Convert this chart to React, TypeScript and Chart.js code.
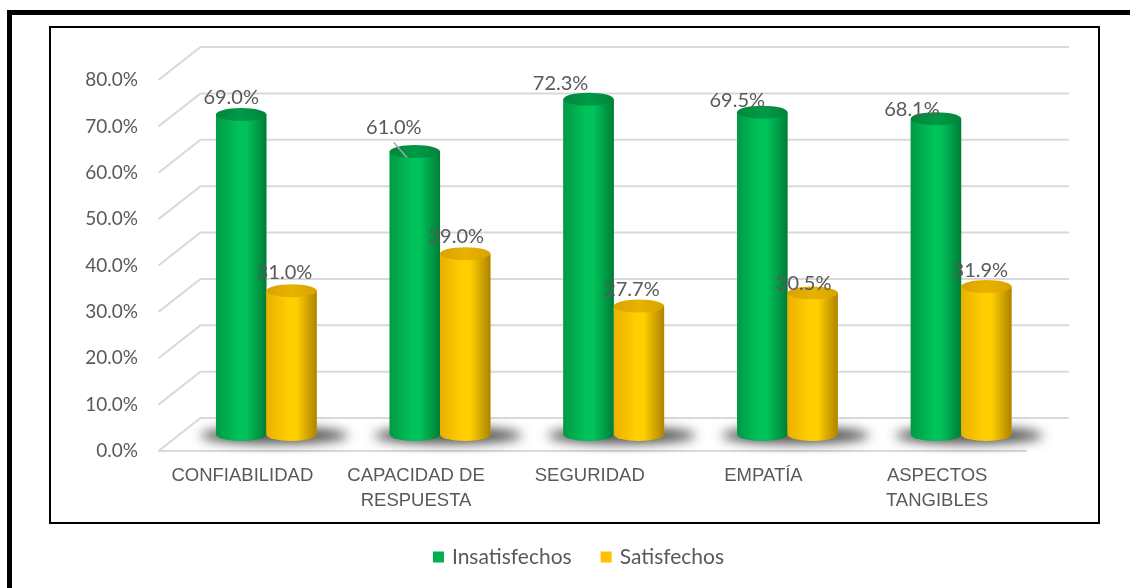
import React, { useEffect, useRef } from "react";
import { Chart, registerables } from "chart.js";

Chart.register(...registerables);

// ---- data ----
const categories: string[][] = [
  ["CONFIABILIDAD"],
  ["CAPACIDAD DE", "RESPUESTA"],
  ["SEGURIDAD"],
  ["EMPATÍA"],
  ["ASPECTOS", "TANGIBLES"],
];
const insatisfechos = [69.0, 61.0, 72.3, 69.5, 68.1];
const satisfechos = [31.0, 39.0, 27.7, 30.5, 31.9];
const seriesNames = ["Insatisfechos", "Satisfechos"];
const yMin = 0;
const yMax = 80;
const yStep = 10;

// ---- styling ----
const GREEN = "#00b050";
const YELLOW = "#ffc000";
const TEXT = "#595959";
const GRID = "#d9d9d9";
const DX = 21; // 3D depth offset (x)
const DY = 16.5; // 3D depth offset (y)
const CAP_RY = 6.5;
const FONT = "Lato, 'Liberation Sans', sans-serif";

// data label nudges relative to bar centre / bar top (styling)
const labelNudgeGreen = [
  [-10, -16.5],
  [-21, -24.5],
  [-28, -16],
  [-25, -12],
  [-24, -9],
];
const labelNudgeYellow = [
  [-7, -18.5],
  [-9, -17.5],
  [-7, -16],
  [-9, -10],
  [-6, -16.5],
];
const leaderGreen = [false, true, false, false, false];

const palettes = [
  { l: "#009a44", m: "#00c25a", r: "#007d36", capA: "#00853b", capB: "#009a46" },
  { l: "#eab000", m: "#ffcf00", r: "#ad8300", capA: "#d9a300", capB: "#e8b200" },
];

function drawCylinder(ctx: CanvasRenderingContext2D, x: number, top: number, base: number, w: number, p: any) {
  const l = x - w / 2;
  const r = x + w / 2;
  const rx = w / 2;
  const g = ctx.createLinearGradient(l, 0, r, 0);
  g.addColorStop(0, p.l);
  g.addColorStop(0.45, p.m);
  g.addColorStop(0.6, p.m);
  g.addColorStop(1, p.r);
  ctx.fillStyle = g;
  ctx.beginPath();
  ctx.moveTo(l, top);
  ctx.lineTo(l, base);
  ctx.ellipse(x, base, rx, CAP_RY, 0, Math.PI, 0, true);
  ctx.lineTo(r, top);
  ctx.closePath();
  ctx.fill();
  const cg = ctx.createLinearGradient(l, 0, r, 0);
  cg.addColorStop(0, p.capA);
  cg.addColorStop(0.5, p.capB);
  cg.addColorStop(1, p.capA);
  ctx.fillStyle = cg;
  ctx.beginPath();
  ctx.ellipse(x, top, rx, CAP_RY, 0, 0, Math.PI * 2);
  ctx.fill();
}

const framePlugin = {
  id: "frame3d",
  beforeDraw(chart: any) {
    const ctx = chart.ctx as CanvasRenderingContext2D;
    ctx.save();
    ctx.fillStyle = "#ffffff";
    ctx.fillRect(0, 0, chart.width, chart.height);
    // outer thick frame (top + left)
    ctx.fillStyle = "#000000";
    ctx.fillRect(7, 10, chart.width - 7, 5);
    ctx.fillRect(7, 10, 5, chart.height - 10);
    // inner plot frame
    ctx.strokeStyle = "#000000";
    ctx.lineWidth = 2;
    ctx.strokeRect(50, 27, 1049, 496);
    ctx.restore();
  },
  beforeDatasetsDraw(chart: any) {
    const ctx = chart.ctx as CanvasRenderingContext2D;
    const y = chart.scales.y;
    const x = chart.scales.x;
    const { left, right } = chart.chartArea;
    ctx.save();
    ctx.strokeStyle = GRID;
    ctx.lineWidth = 2;
    for (let v = yMin; v <= yMax; v += yStep) {
      const ym = y.getPixelForValue(v);
      ctx.beginPath();
      ctx.moveTo(left - DX, ym + DY);
      ctx.lineTo(left + DX, ym - DY);
      ctx.lineTo(right + DX, ym - DY);
      ctx.stroke();
    }
    // floor front edge
    const y0 = y.getPixelForValue(0);
    ctx.beginPath();
    ctx.moveTo(left - DX, y0 + DY);
    ctx.lineTo(right - DX, y0 + DY);
    ctx.stroke();
    // shadows on the floor
    ctx.filter = "blur(6px)";
    ctx.fillStyle = "rgba(30,30,30,0.8)";
    for (let i = 0; i < categories.length; i++) {
      const cx = x.getPixelForValue(i);
      ctx.beginPath();
      ctx.ellipse(cx + 8, y0 + 1, 74, 8, 0, 0, Math.PI * 2);
      ctx.fill();
    }
    ctx.filter = "none";
    ctx.restore();
  },
  afterDatasetsDraw(chart: any) {
    const ctx = chart.ctx as CanvasRenderingContext2D;
    ctx.save();
    chart.data.datasets.forEach((ds: any, di: number) => {
      const meta = chart.getDatasetMeta(di);
      meta.data.forEach((bar: any) => {
        drawCylinder(ctx, bar.x, bar.y, bar.base, bar.width, palettes[di]);
      });
    });
    ctx.font = "20px " + FONT;
    ctx.fillStyle = TEXT;
    ctx.textAlign = "center";
    ctx.textBaseline = "middle";
    chart.data.datasets.forEach((ds: any, di: number) => {
      const meta = chart.getDatasetMeta(di);
      const nudges = di === 0 ? labelNudgeGreen : labelNudgeYellow;
      meta.data.forEach((bar: any, i: number) => {
        const lx = bar.x + nudges[i][0];
        const ly = bar.y + nudges[i][1];
        if (di === 0 && leaderGreen[i]) {
          ctx.strokeStyle = "#a6a6a6";
          ctx.lineWidth = 1.5;
          ctx.beginPath();
          ctx.moveTo(bar.x - 21, bar.y - 9);
          ctx.lineTo(bar.x - 8, bar.y + 6);
          ctx.stroke();
        }
        ctx.fillText(ds.data[i].toFixed(1) + "%", lx, ly);
      });
    });
    ctx.restore();
  },
  afterDraw(chart: any) {
    // legend (custom, to match item spacing)
    const ctx = chart.ctx as CanvasRenderingContext2D;
    ctx.save();
    ctx.font = "21px " + FONT;
    ctx.textBaseline = "middle";
    ctx.textAlign = "left";
    const box = 11;
    const gap = 8;
    const spacing = 29;
    const items = chart.data.datasets.map((ds: any) => ({
      text: ds.label as string,
      color: ds.backgroundColor as string,
      w: ctx.measureText(ds.label).width,
    }));
    const total = items.reduce((s: number, it: any) => s + box + gap + it.w, 0) + spacing * (items.length - 1);
    const cy = 557;
    let cx = chart.width / 2 + 13.5 - total / 2;
    items.forEach((it: any) => {
      ctx.fillStyle = it.color;
      ctx.fillRect(cx, cy - box / 2, box, box);
      ctx.fillStyle = TEXT;
      ctx.fillText(it.text, cx + box + gap, cy);
      cx += box + gap + it.w + spacing;
    });
    ctx.restore();
  },
};

export default function App() {
  const ref = useRef<HTMLCanvasElement | null>(null);
  useEffect(() => {
    if (!ref.current) return;
    const chart = new Chart(ref.current, {
      type: "bar",
      data: {
        labels: categories,
        datasets: [
          { label: seriesNames[0], data: insatisfechos, backgroundColor: GREEN, borderWidth: 0 },
          { label: seriesNames[1], data: satisfechos, backgroundColor: YELLOW, borderWidth: 0 },
        ],
      },
      options: {
        responsive: false,
        animation: false,
        events: [],
        layout: { padding: { left: 79.5, right: 82, top: 63.5, bottom: 50.5 } },
        datasets: { bar: { categoryPercentage: 0.58, barPercentage: 1.0 } },
        plugins: {
          tooltip: { enabled: false },
          legend: { display: false },
        },
        scales: {
          x: {
            grid: { display: false, drawTicks: false },
            border: { display: false },
            afterFit: (s: any) => {
              s.height = 103;
            },
            ticks: {
              color: TEXT,
              padding: 29,
              labelOffset: -24,
              maxRotation: 0,
              autoSkip: false,
              font: { family: "'Liberation Sans', sans-serif", size: 18.5, lineHeight: "25px" },
            },
          },
          y: {
            min: yMin,
            max: yMax,
            grid: { display: false, drawTicks: false },
            border: { display: false },
            afterFit: (s: any) => {
              s.width = 100;
            },
            ticks: {
              stepSize: yStep,
              color: TEXT,
              padding: 41.5,
              labelOffset: DY,
              font: { family: FONT, size: 19 },
              callback: (v: any) => Number(v).toFixed(1) + "%",
            },
          },
        },
      },
      plugins: [framePlugin],
    });
    return () => chart.destroy();
  }, []);
  return (
    <div style={{ position: "absolute", left: 0, top: 0, width: 1130, height: 588, background: "#fff" }}>
      <canvas ref={ref} width={1130} height={588} style={{ display: "block" }} />
    </div>
  );
}
